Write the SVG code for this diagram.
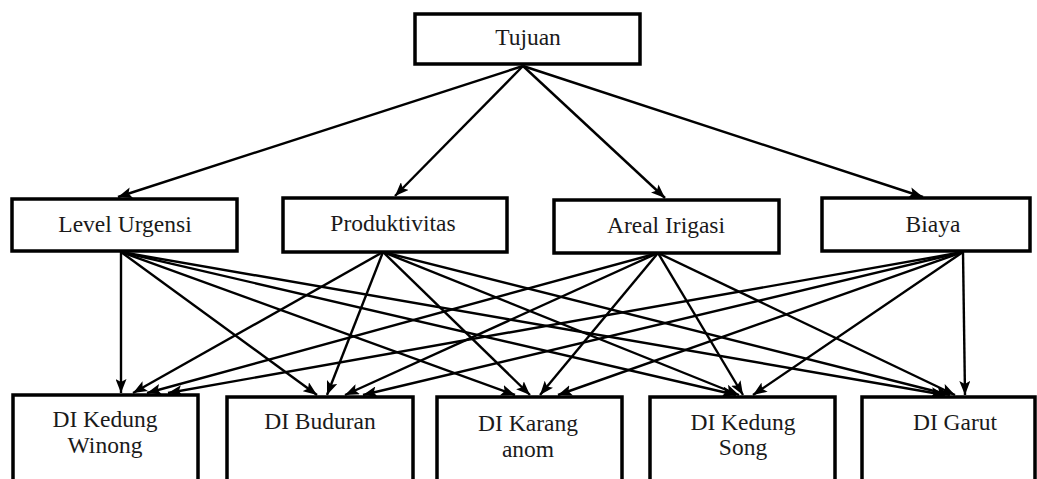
<svg xmlns="http://www.w3.org/2000/svg" width="1037" height="479" viewBox="0 0 1037 479">
<defs>
<marker id="ah" viewBox="0 0 14 11" refX="14" refY="5.5" markerWidth="14" markerHeight="11" markerUnits="userSpaceOnUse" orient="auto">
<path d="M0,0 L14,5.5 L0,11 L3,5.5 Z" fill="#000"/>
</marker>
<style>
.box{fill:#fff;stroke:#000;stroke-width:3.5}
.t{font-family:"Liberation Serif","Times New Roman",serif;font-size:23.5px;fill:#1a1a1a;text-anchor:middle}
.c line{stroke:#000;stroke-width:2.4;marker-end:url(#ah)}
</style>
</defs>
<rect width="1037" height="479" fill="#fff"/>
<g class="c" id="connectors">
<line x1="523" y1="66" x2="118" y2="197"/>
<line x1="523" y1="66" x2="395" y2="196"/>
<line x1="523" y1="66" x2="665" y2="198"/>
<line x1="523" y1="66" x2="923" y2="197"/>
<line x1="121" y1="252" x2="121" y2="393"/>
<line x1="121" y1="252" x2="317" y2="395"/>
<line x1="121" y1="252" x2="515" y2="395"/>
<line x1="121" y1="252" x2="736" y2="395"/>
<line x1="121" y1="252" x2="945" y2="395"/>
<line x1="383" y1="252" x2="133" y2="393"/>
<line x1="383" y1="252" x2="327" y2="395"/>
<line x1="383" y1="252" x2="530" y2="395"/>
<line x1="383" y1="252" x2="739" y2="395"/>
<line x1="383" y1="252" x2="950" y2="395"/>
<line x1="658" y1="253" x2="147" y2="393"/>
<line x1="658" y1="253" x2="345" y2="395"/>
<line x1="658" y1="253" x2="540" y2="395"/>
<line x1="658" y1="253" x2="743" y2="395"/>
<line x1="658" y1="253" x2="955" y2="395"/>
<line x1="963" y1="252" x2="168" y2="393"/>
<line x1="963" y1="252" x2="363" y2="395"/>
<line x1="963" y1="252" x2="558" y2="395"/>
<line x1="963" y1="252" x2="753" y2="395"/>
<line x1="963" y1="252" x2="965" y2="395"/>
</g>
<g id="tujuan"><rect class="box" x="415" y="14" width="225" height="50"/><text class="t" x="528" y="45">Tujuan</text></g>
<g id="level-urgensi"><rect class="box" x="12" y="199" width="225" height="52"/><text class="t" x="125" y="232">Level Urgensi</text></g>
<g id="produktivitas"><rect class="box" x="283" y="198" width="224" height="54"/><text class="t" x="393" y="231">Produktivitas</text></g>
<g id="areal-irigasi"><rect class="box" x="554" y="200" width="225" height="53"/><text class="t" x="666" y="233">Areal Irigasi</text></g>
<g id="biaya"><rect class="box" x="822" y="198" width="208" height="53"/><text class="t" x="933" y="232">Biaya</text></g>
<g id="di-kedung-winong"><rect class="box" x="13" y="395" width="185" height="95"/><text class="t" x="105" y="427">DI Kedung</text><text class="t" x="105" y="453">Winong</text></g>
<g id="di-buduran"><rect class="box" x="227" y="397" width="186" height="93"/><text class="t" x="320" y="429">DI Buduran</text></g>
<g id="di-karang-anom"><rect class="box" x="437" y="397" width="185" height="93"/><text class="t" x="528" y="431">DI Karang</text><text class="t" x="528" y="457">anom</text></g>
<g id="di-kedung-song"><rect class="box" x="650" y="397" width="185" height="93"/><text class="t" x="743" y="430">DI Kedung</text><text class="t" x="743" y="455">Song</text></g>
<g id="di-garut"><rect class="box" x="862" y="397" width="173" height="93"/><text class="t" x="955" y="430">DI Garut</text></g>
</svg>
